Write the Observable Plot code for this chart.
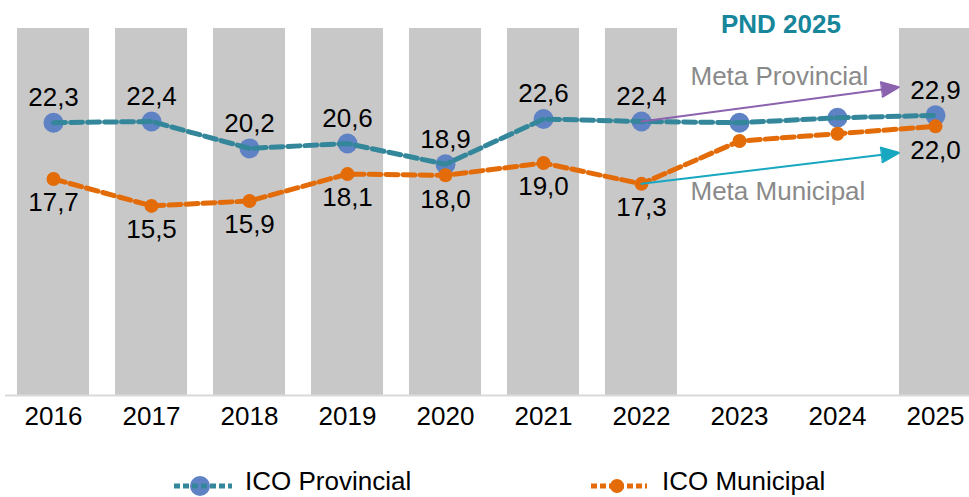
<!DOCTYPE html>
<html>
<head>
<meta charset="utf-8">
<script src="https://cdn.jsdelivr.net/npm/d3@7"></script>
<script src="https://cdn.jsdelivr.net/npm/@observablehq/plot@0.6"></script>
<style>
  body { margin: 0; background: #fff; font-family: "Liberation Sans", Arial, Helvetica, sans-serif; }
  #wrap { position: relative; width: 969px; height: 497px; overflow: hidden; }
  #chart svg { display: block; }
  .title { position: absolute; left: 721px; top: 11px; font-weight: bold; font-size: 26px; line-height: 26px; color: #17869a; white-space: nowrap; }
  .leg { position: absolute; top: 468px; font-size: 26px; line-height: 26px; color: #000; white-space: nowrap; }
  .sw { position: absolute; top: 474px; }
</style>
</head>
<body>
<div id="wrap">
  <div id="chart"></div>
  <div class="title">PND 2025</div>
  <svg class="sw" style="left:172px" width="62" height="24">
    <line x1="2" y1="12" x2="60" y2="12" stroke="#34879a" stroke-width="5" stroke-dasharray="6,3"/>
    <circle cx="28" cy="12" r="10" fill="#5f82c4"/>
    <line x1="18" y1="12" x2="38" y2="12" stroke="#34879a" stroke-width="5" stroke-dasharray="6,3" stroke-dashoffset="-2"/>
  </svg>
  <div class="leg" style="left:245px">ICO Provincial</div>
  <svg class="sw" style="left:589px" width="62" height="24">
    <line x1="2" y1="12" x2="58" y2="12" stroke="#e36c09" stroke-width="5" stroke-dasharray="6,3"/>
    <circle cx="28" cy="12" r="7" fill="#e36c09"/>
  </svg>
  <div class="leg" style="left:662px">ICO Municipal</div>
</div>
<script>
// ---- data ----
const years = ["2016", "2017", "2018", "2019", "2020", "2021", "2022", "2023", "2024", "2025"];
const provincial = [22.3, 22.4, 20.2, 20.6, 18.9, 22.6, 22.4, 22.3, 22.7, 22.9];
const municipal = [17.7, 15.5, 15.9, 18.1, 18.0, 19.0, 17.3, 20.8, 21.4, 22.0];
const labeledYears = ["2016", "2017", "2018", "2019", "2020", "2021", "2022", "2025"];
const barYears = ["2016", "2017", "2018", "2019", "2020", "2021", "2022", "2025"];
const barValue = 30;
const metaNames = ["Meta Provincial", "Meta Municipal"];
const metaFrom = ["2022", "2022"];
const metaTo = ["2025", "2025"];
const metaStartValues = [22.4, 17.3];
const metaEndValues = [25.6, 20.2];
const metaLabelValues = [26.1, 16.7];

const fmt = v => v.toFixed(1).replace(".", ",");
const prov = years.map((y, i) => ({year: y, value: provincial[i]}));
const muni = years.map((y, i) => ({year: y, value: municipal[i]}));
const provLab = prov.filter(d => labeledYears.includes(d.year));
const muniLab = muni.filter(d => labeledYears.includes(d.year));
const bars = barYears.map(y => ({year: y, value: barValue}));
const metas = metaNames.map((n, i) => ({name: n, x1: metaFrom[i], x2: metaTo[i], y1: metaStartValues[i], y2: metaEndValues[i], ly: metaLabelValues[i]}));

const FONT = '"Liberation Sans", Arial, Helvetica, sans-serif';
const chart = Plot.plot({
  width: 969,
  height: 445,
  marginTop: 28,
  marginBottom: 50,
  marginLeft: 0,
  marginRight: 0,
  style: {fontFamily: FONT, fontSize: "26px", color: "#000", background: "transparent", overflow: "visible"},
  x: {type: "band", domain: years, range: [4, 984], paddingInner: 0.265, paddingOuter: 0.1327, round: false},
  y: {domain: [0, 30], axis: null},
  marks: [
    Plot.barY(bars, {x: "year", y: "value", fill: "#c8c8c8"}),
    Plot.ruleY([0], {stroke: "#d9d9d9", strokeWidth: 2, insetLeft: 5}),
    Plot.axisX({tickSize: 0, tickPadding: 11, fontSize: 26, fill: "#000", label: null}),
    Plot.dot(prov, {x: "year", y: "value", r: 10, fill: "#5f82c4"}),
    Plot.line(prov, {x: "year", y: "value", stroke: "#34879a", strokeWidth: 5, strokeDasharray: "12,5"}),
    Plot.line(muni, {x: "year", y: "value", stroke: "#e36c09", strokeWidth: 5, strokeDasharray: "12,5"}),
    Plot.dot(muni, {x: "year", y: "value", r: 7, fill: "#e36c09"}),
    Plot.text(provLab, {x: "year", y: "value", text: d => fmt(d.value), dy: -25, fontSize: 26, fill: "#000"}),
    Plot.text(muniLab, {x: "year", y: "value", text: d => fmt(d.value), dy: 24, fontSize: 26, fill: "#000"}),
    Plot.arrow(metas.slice(0, 1), {x1: "x1", y1: "y1", x2: "x2", y2: "y2", stroke: "#8b62ae", strokeWidth: 2, headLength: 14, headAngle: 46, insetEnd: 37}),
    Plot.arrow(metas.slice(1, 2), {x1: "x1", y1: "y1", x2: "x2", y2: "y2", stroke: "#17a7c1", strokeWidth: 2, headLength: 14, headAngle: 46, insetEnd: 37}),
    Plot.text(metas, {x: "x2", y: "ly", text: "name", textAnchor: "start", dx: -245, fontSize: 26, fill: "#8a8a8a"})
  ]
});
document.getElementById("chart").append(chart);

// fill arrowheads as solid triangles
chart.querySelectorAll('g[aria-label="arrow"] path').forEach(p => {
  const nums = (p.getAttribute("d").match(/-?\d*\.?\d+(?:e-?\d+)?/g) || []).map(Number);
  if (nums.length < 6) return;
  const n = nums.slice(-6);
  const color = p.getAttribute("stroke") || p.parentNode.getAttribute("stroke");
  const tri = document.createElementNS("http://www.w3.org/2000/svg", "path");
  tri.setAttribute("d", `M${n[0]},${n[1]}L${n[2]},${n[3]}L${n[4]},${n[5]}Z`);
  tri.setAttribute("fill", color);
  tri.setAttribute("stroke", color);
  tri.setAttribute("stroke-width", "1");
  p.parentNode.appendChild(tri);
});
</script>
</body>
</html>
